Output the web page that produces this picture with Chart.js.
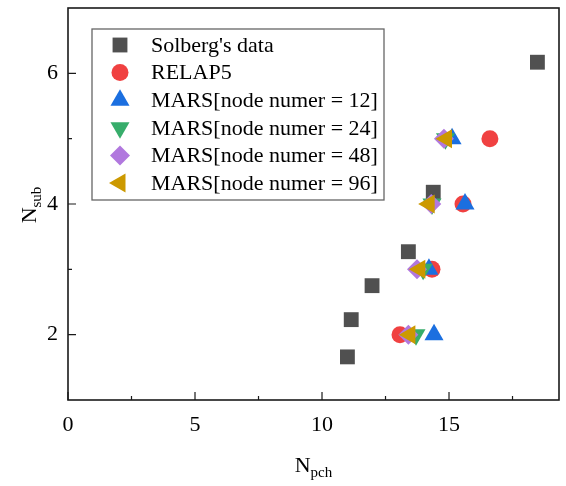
<!DOCTYPE html>
<html>
<head>
<meta charset="utf-8">
<script src="https://cdn.jsdelivr.net/npm/chart.js@4.4.0/dist/chart.umd.min.js"></script>
<style>
  html, body { margin: 0; padding: 0; background: #fff; }
  #wrap { width: 566px; height: 486px; position: relative; }
</style>
</head>
<body>
<div id="wrap"><canvas id="grafica"></canvas></div>
<script>
// data
const solbergX = [11.0, 11.15, 11.97, 13.4, 14.38, 18.48];
const solbergY = [1.66, 2.23, 2.75, 3.27, 4.18, 6.17];
const relapX = [13.07, 14.33, 15.55, 16.61];
const relapY = [2, 3, 4, 5];
const mars12X = [14.41, 14.21, 15.63, 15.12];
const mars24X = [13.7, 13.98, 14.33, 14.86];
const mars48X = [13.4, 13.74, 14.3, 14.8];
const mars96X = [13.46, 13.85, 14.22, 14.9];
const marsY = [2, 3, 4, 5];
const xTicks = [0, 5, 10, 15];
const yTicks = [2, 4, 6];

const toPts = (xs, ys) => xs.map((x, i) => ({ x: x, y: ys[i] }));

const series = [
  { label: "Solberg's data", data: toPts(solbergX, solbergY), color: '#505050', style: 'rect', r: 10.5, rot: 0 },
  { label: 'RELAP5', data: toPts(relapX, relapY), color: '#f04141', style: 'circle', r: 8.5, rot: 0 },
  { label: 'MARS[node numer = 12]', data: toPts(mars12X, marsY), color: '#1b6fe0', style: 'triangle', r: 11, rot: 0 },
  { label: 'MARS[node numer = 24]', data: toPts(mars24X, marsY), color: '#37ad6b', style: 'triangle', r: 11, rot: 180 },
  { label: 'MARS[node numer = 48]', data: toPts(mars48X, marsY), color: '#b178de', style: 'rectRot', r: 10, rot: 0 },
  { label: 'MARS[node numer = 96]', data: toPts(mars96X, marsY), color: '#cc9900', style: 'triangle', r: 11, rot: -90 }
];

const FONT = '"Liberation Serif", "Times New Roman", serif';

const marcoYLeyenda = {
  id: 'marcoYLeyenda',
  afterDatasetsDraw(chart) {
    const ctx = chart.ctx;
    const a = chart.chartArea;
    const xs = chart.scales.x, ys = chart.scales.y;
    ctx.save();
    // frame
    ctx.strokeStyle = '#1a1a1a';
    ctx.lineWidth = 1.6;
    ctx.strokeRect(a.left, a.top, a.right - a.left, a.bottom - a.top);
    // inward ticks
    ctx.lineWidth = 1.2;
    ctx.beginPath();
    for (let v = 0; v <= xs.max; v += 2.5) {
      const px = xs.getPixelForValue(v);
      const len = v % 5 === 0 ? 8 : 4;
      ctx.moveTo(px, a.bottom); ctx.lineTo(px, a.bottom - len);
    }
    for (let v = 2; v <= 6; v += 1) {
      const py = ys.getPixelForValue(v);
      const len = v % 2 === 0 ? 8 : 4;
      ctx.moveTo(a.left, py); ctx.lineTo(a.left + len, py);
    }
    ctx.stroke();

    // legend box
    const bx = 92, by = 29, bw = 292, bh = 171;
    ctx.fillStyle = '#fff';
    ctx.fillRect(bx, by, bw, bh);
    ctx.strokeStyle = '#666';
    ctx.lineWidth = 1.3;
    ctx.strokeRect(bx, by, bw, bh);
    ctx.font = '22px ' + FONT;
    ctx.textBaseline = 'middle';
    ctx.textAlign = 'left';
    series.forEach((s, i) => {
      const cy = 45 + i * 27.6;
      ctx.fillStyle = s.color;
      ctx.strokeStyle = s.color;
      Chart.helpers.drawPoint(ctx, { pointStyle: s.style, radius: s.r, rotation: s.rot, borderWidth: 0 }, 120, cy);
      ctx.fillStyle = '#000';
      ctx.fillText(s.label, 151, cy + 1);
    });

    // axis titles with subscripts
    ctx.fillStyle = '#000';
    ctx.textBaseline = 'alphabetic';
    const cx = (a.left + a.right) / 2;
    ctx.font = '22px ' + FONT;
    const wN = ctx.measureText('N').width;
    ctx.font = '15px ' + FONT;
    const wS = ctx.measureText('pch').width;
    let x0 = cx - (wN + wS) / 2;
    ctx.font = '22px ' + FONT;
    ctx.fillText('N', x0, 472);
    ctx.font = '15px ' + FONT;
    ctx.fillText('pch', x0 + wN, 477);

    ctx.translate(36, 205);
    ctx.rotate(-Math.PI / 2);
    ctx.font = '15px ' + FONT;
    const wS2 = ctx.measureText('sub').width;
    x0 = -(wN + wS2) / 2;
    ctx.font = '22px ' + FONT;
    ctx.fillText('N', x0, 0);
    ctx.font = '15px ' + FONT;
    ctx.fillText('sub', x0 + wN, 5);
    ctx.restore();
  }
};

new Chart(document.getElementById('grafica'), {
  type: 'scatter',
  data: {
    datasets: series.map((s, i) => ({
      label: s.label,
      data: s.data,
      pointStyle: s.style,
      pointRadius: s.r,
      pointHoverRadius: s.r,
      pointRotation: s.rot,
      backgroundColor: s.color,
      borderColor: s.color,
      borderWidth: 0,
      order: series.length - i
    }))
  },
  options: {
    responsive: true,
    maintainAspectRatio: false,
    animation: false,
    layout: { autoPadding: false, padding: { top: 8, right: 7, left: 0, bottom: 0 } },
    plugins: { legend: { display: false }, tooltip: { enabled: false } },
    scales: {
      x: {
        type: 'linear',
        min: 0,
        max: 19.33,
        afterBuildTicks: s => { s.ticks = xTicks.map(v => ({ value: v })); },
        afterFit: s => { s.height = 86; s.paddingLeft = 0; s.paddingRight = 0; },
        grid: { display: false, drawTicks: false },
        border: { display: false },
        ticks: { color: '#000', padding: 12, font: { family: FONT, size: 22 } }
      },
      y: {
        type: 'linear',
        min: 1,
        max: 7,
        afterBuildTicks: s => { s.ticks = yTicks.map(v => ({ value: v })); },
        afterFit: s => { s.width = 68; s.paddingTop = 0; s.paddingBottom = 0; },
        grid: { display: false, drawTicks: false },
        border: { display: false },
        ticks: { color: '#000', padding: 10, font: { family: FONT, size: 22 } }
      }
    }
  },
  plugins: [marcoYLeyenda]
});
</script>
</body>
</html>
